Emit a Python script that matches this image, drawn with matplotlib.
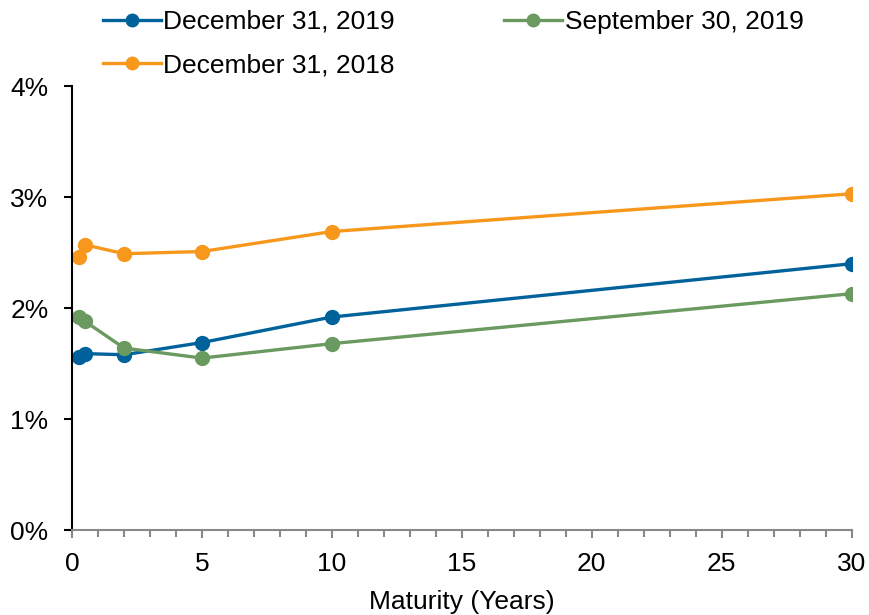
import matplotlib
matplotlib.use("Agg")
import matplotlib.pyplot as plt
from matplotlib.ticker import MultipleLocator, FuncFormatter

plt.rcParams['font.family'] = ['Liberation Sans', 'DejaVu Sans']

# maturities in years and yields in percent
maturity = [0.25, 0.5, 2, 5, 10, 30]
dec_2019 = [1.56, 1.59, 1.58, 1.69, 1.92, 2.40]
sep_2019 = [1.92, 1.88, 1.64, 1.55, 1.68, 2.13]
dec_2018 = [2.46, 2.57, 2.49, 2.51, 2.69, 3.03]

fig = plt.figure(figsize=(8.69, 6.15), dpi=100)
ax = fig.add_axes([0.083, 0.138, 0.897, 0.722])

l1, = ax.plot(maturity, dec_2019, color='#00629b', lw=2.4, marker='o', ms=10, label='December 31, 2019')
l2, = ax.plot(maturity, sep_2019, color='#6a9a60', lw=2.4, marker='o', ms=10, label='September 30, 2019')
l3, = ax.plot(maturity, dec_2018, color='#f7981d', lw=2.4, marker='o', ms=10, label='December 31, 2018')

ax.set_xlim(0, 30)
ax.set_ylim(0, 4)
ax.xaxis.set_major_locator(MultipleLocator(5))
ax.xaxis.set_minor_locator(MultipleLocator(1))
ax.yaxis.set_major_locator(MultipleLocator(1))
ax.yaxis.set_major_formatter(FuncFormatter(lambda v, p: f"{v:.0f}%"))

for s in ['top', 'right']:
    ax.spines[s].set_visible(False)
ax.spines['left'].set_color('black')
ax.spines['left'].set_linewidth(1.5)
ax.spines['bottom'].set_color('#888888')
ax.spines['bottom'].set_linewidth(1.5)
ax.tick_params(axis='y', direction='out', length=6, width=1.5, color='black', labelsize=19, pad=11)
ax.tick_params(axis='x', which='major', direction='out', length=6, width=1.5, color='#888888', labelsize=19, pad=10)
ax.tick_params(axis='x', which='minor', direction='out', length=5, width=1.5, color='#888888')
ax.set_xlabel('Maturity (Years)', fontsize=19, labelpad=10)

# column-wise fill: left column Dec 2019 / Dec 2018, right column Sep 2019
ax.legend([l1, l3, l2], [l1.get_label(), l3.get_label(), l2.get_label()],
          loc='upper left', bbox_to_anchor=(0.118, 0.984), bbox_transform=fig.transFigure,
          ncol=2, frameon=False, fontsize=19,
          handlelength=2.2, handletextpad=0.1, columnspacing=4.15, labelspacing=0.75,
          markerscale=0.9, borderaxespad=0.0, borderpad=0.0)

fig.savefig('out.png', dpi=100)
